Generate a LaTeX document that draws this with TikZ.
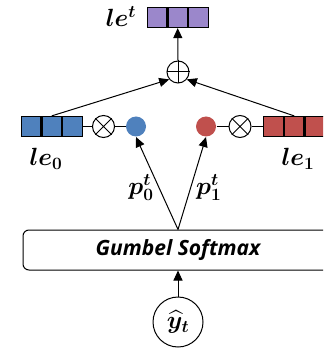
\documentclass[tikz,border=0pt]{standalone}
\usepackage{amsmath,bm}
\usepackage{fontspec}
\newfontfamily\labelfont{Open Sans}
\usetikzlibrary{arrows.meta,positioning}

\definecolor{vecpurple}{HTML}{9B87CB}
\definecolor{vecblue}{HTML}{4F81BD}
\definecolor{vecred}{HTML}{C0504D}

\tikzset{
    cell/.style={draw, line width=1.2pt, fill=#1, minimum width=19.5pt, minimum height=20pt, inner sep=0pt},
    opnode/.style={draw, circle, line width=1pt, minimum size=22pt, inner sep=0pt},
    dot/.style={circle, fill=#1, minimum size=20pt, inner sep=0pt},
    vlabel/.style={font=\fontsize{24}{26}\selectfont, inner sep=1pt},
}

\begin{document}
\begin{tikzpicture}[x=1pt, y=-1pt, line width=1pt, >={Triangle[length=10pt,width=9pt]}]
    \clip (0,0) rectangle (323,352);

    % Output vector le^t
    \node[cell=vecpurple] (pa) at (157,17.5) {};
    \node[cell=vecpurple, right=0pt of pa] (pb) {};
    \node[cell=vecpurple, right=0pt of pb] (pc) {};
    \node[vlabel] (let) at (121,17) {$\bm{l}\bm{e}^{\bm{t}}$};

    % Sum
    \node[opnode] (sum) at (178,72) {};
    \draw (sum.north) -- (sum.south) (sum.west) -- (sum.east);

    % Vector le_0 and its weight
    \node[cell=vecblue] (ba) at (31,126.5) {};
    \node[cell=vecblue, right=0pt of ba] (bb) {};
    \node[cell=vecblue, right=0pt of bb] (bc) {};
    \node[vlabel] (le0) at (46,159) {$\bm{l}\bm{e}_{\bm{0}}$};
    \node[opnode] (mula) at (103.5,126.5) {};
    \draw (mula.45) -- (mula.225) (mula.135) -- (mula.315);
    \node[dot=vecblue] (pza) at (136,126.5) {};

    % Vector le_1 and its weight
    \node[cell=vecred] (ra) at (273.5,126.5) {};
    \node[cell=vecred, right=0pt of ra] (rb) {};
    \node[cell=vecred, right=0pt of rb] (rc) {};
    \node[vlabel] (le1) at (298,159) {$\bm{l}\bm{e}_{\bm{1}}$};
    \node[opnode] (mulb) at (240,126.5) {};
    \draw (mulb.45) -- (mulb.225) (mulb.135) -- (mulb.315);
    \node[dot=vecred] (pzb) at (206,126.5) {};

    % Gumbel Softmax and input
    \node[draw, rounded corners=6pt, minimum width=310pt, minimum height=40pt] (gumbel) at (178,250)
        {\labelfont\bfseries\itshape\fontsize{21}{24}\selectfont Gumbel Softmax};
    \node[draw, circle, minimum size=50pt, inner sep=0pt] (yt) at (178,322)
        {\fontsize{24}{26}\selectfont$\widehat{\bm{y}}_{\bm{t}}$};

    % Connectors
    \draw (bc.east) -- (mula.west) (mula.east) -- (pza.west);
    \draw (pzb.east) -- (mulb.west) (mulb.east) -- (ra.west);
    \draw[->] (bb.north) -- (sum.220);
    \draw[->] (rb.north) -- (sum.320);
    \draw[->] (sum.north) -- (pb.south);
    \draw[->] (gumbel.north) -- node[pos=0.45, left=4pt, vlabel] {$\bm{p}_{\bm{0}}^{\bm{t}}$} (pza.south);
    \draw[->] (gumbel.north) -- node[pos=0.45, right=4pt, vlabel] {$\bm{p}_{\bm{1}}^{\bm{t}}$} (pzb.south);
    \draw[->] (yt.north) -- (gumbel.south);
\end{tikzpicture}
\end{document}
